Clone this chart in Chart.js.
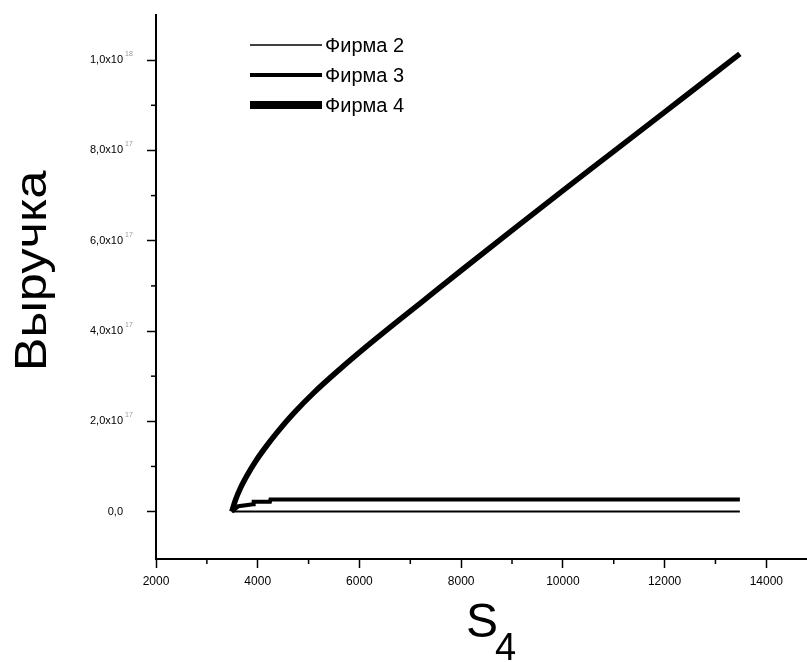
<!DOCTYPE html>
<html>
<head>
<meta charset="utf-8">
<script src="https://cdn.jsdelivr.net/npm/chart.js@4"></script>
<style>
  html, body { margin: 0; padding: 0; background: #fff; }
  #wrap { width: 807px; height: 662px; }
</style>
</head>
<body>
<div id="wrap"><canvas id="revenueChart" width="807" height="662"></canvas></div>
<script>
// ======================================================
// Data
// ======================================================
const seriesNames = ["Фирма 2", "Фирма 3", "Фирма 4"];

const firm2S = [3490, 13480];
const firm2R = [0, 0];

const firm3S = [3490, 3620, 3910, 3920, 4240, 4250, 13480];
const firm3R = [0, 1.2e16, 1.6e16, 2.2e16, 2.2e16, 2.7e16, 2.7e16];

const firm4S = [3490, 3560, 3660, 3800, 3950, 4150, 4400, 4700, 5100, 5600, 6100, 6600, 7200, 8000, 9000, 10000, 11000, 12000, 13000, 13480];
const firm4R = [0, 2.5e16, 5.2e16, 8.2e16, 1.1e17, 1.42e17, 1.78e17, 2.17e17, 2.63e17, 3.14e17, 3.62e17, 4.08e17, 4.62e17, 5.34e17, 6.23e17, 7.11e17, 7.98e17, 8.85e17, 9.72e17, 1.014e18];

const xMajorTicks = [2000, 4000, 6000, 8000, 10000, 12000, 14000];
const xMinorTicks = [3000, 5000, 7000, 9000, 11000, 13000];
const yMajorTicks = [0, 2e17, 4e17, 6e17, 8e17, 1e18];
const yMinorTicks = [1e17, 3e17, 5e17, 7e17, 9e17];
const yTickLabels = ["0,0", "2,0x10", "4,0x10", "6,0x10", "8,0x10", "1,0x10"];
const yTickExps = ["", "17", "17", "17", "17", "18"];

const xTitle = "S";
const xTitleSub = "4";
const yTitle = "Выручка";

const FONT = "'Liberation Sans', Arial, sans-serif";

function toPoints(xs, ys) {
  return xs.map((x, i) => ({ x: x, y: ys[i] }));
}

// ======================================================
// Extra drawing: minor ticks, exponents, titles, legend
// ======================================================
const decorPlugin = {
  id: "decor",
  afterDraw(chart) {
    const ctx = chart.ctx;
    const xs = chart.scales.x;
    const ys = chart.scales.y;
    const area = chart.chartArea;

    ctx.save();
    ctx.strokeStyle = "#000";
    ctx.lineWidth = 1.5;
    // minor ticks
    xMinorTicks.forEach((v) => {
      const px = xs.getPixelForValue(v);
      ctx.beginPath();
      ctx.moveTo(px, area.bottom);
      ctx.lineTo(px, area.bottom + 5);
      ctx.stroke();
    });
    yMinorTicks.forEach((v) => {
      const py = ys.getPixelForValue(v);
      ctx.beginPath();
      ctx.moveTo(area.left, py);
      ctx.lineTo(area.left - 5, py);
      ctx.stroke();
    });

    // exponents on y labels
    ctx.fillStyle = "#999";
    ctx.font = "7px " + FONT;
    ctx.textAlign = "left";
    ctx.textBaseline = "middle";
    yMajorTicks.forEach((v, i) => {
      if (!yTickExps[i]) return;
      ctx.fillText(yTickExps[i], area.left - 31, ys.getPixelForValue(v) - 6);
    });

    // axis titles
    ctx.fillStyle = "#000";
    ctx.save();
    ctx.translate(34, 271);
    ctx.rotate(-Math.PI / 2);
    ctx.scale(1.15, 1);
    ctx.font = "44px " + FONT;
    ctx.textAlign = "center";
    ctx.textBaseline = "middle";
    ctx.fillText(yTitle, 0, 0);
    ctx.restore();

    ctx.textAlign = "left";
    ctx.textBaseline = "alphabetic";
    ctx.font = "48px " + FONT;
    ctx.fillText(xTitle, 466, 637);
    ctx.font = "38px " + FONT;
    ctx.fillText(xTitleSub, 495, 660);

    // legend
    const legendWidths = [1.5, 4, 8];
    ctx.font = "20px " + FONT;
    ctx.textBaseline = "middle";
    seriesNames.forEach((name, i) => {
      const ly = 45 + i * 30;
      ctx.lineWidth = legendWidths[i];
      ctx.beginPath();
      ctx.moveTo(250, ly);
      ctx.lineTo(322, ly);
      ctx.stroke();
      ctx.fillText(name, 325, ly + 1);
    });
    ctx.restore();
  },
};

// ======================================================
// Chart
// ======================================================
const ctx = document.getElementById("revenueChart").getContext("2d");

new Chart(ctx, {
  type: "scatter",
  data: {
    datasets: [
      {
        label: seriesNames[0],
        data: toPoints(firm2S, firm2R),
        borderColor: "#000",
        borderWidth: 2,
        showLine: true,
        pointRadius: 0,
      },
      {
        label: seriesNames[1],
        data: toPoints(firm3S, firm3R),
        borderColor: "#000",
        borderWidth: 4,
        showLine: true,
        pointRadius: 0,
      },
      {
        label: seriesNames[2],
        data: toPoints(firm4S, firm4R),
        borderColor: "#000",
        borderWidth: 5.5,
        showLine: true,
        pointRadius: 0,
        cubicInterpolationMode: "monotone",
      },
    ],
  },
  options: {
    responsive: false,
    animation: false,
    layout: { autoPadding: false, padding: { top: 15, right: 0, left: 0, bottom: 0 } },
    plugins: {
      legend: { display: false },
      tooltip: { enabled: false },
    },
    scales: {
      x: {
        type: "linear",
        min: 2000,
        max: 14800,
        afterBuildTicks: (scale) => {
          scale.ticks = xMajorTicks.map((v) => ({ value: v }));
        },
        afterFit: (scale) => {
          scale.height = 103;
        },
        border: { color: "#000", width: 2 },
        grid: {
          drawOnChartArea: false,
          tickLength: 9,
          tickColor: "#000",
          tickWidth: 1.5,
        },
        ticks: {
          color: "#000",
          font: { family: FONT, size: 12 },
          padding: 6,
          maxRotation: 0,
          callback: (value) => String(value),
        },
      },
      y: {
        type: "linear",
        min: -1.05e17,
        max: 1.1e18,
        afterBuildTicks: (scale) => {
          scale.ticks = yMajorTicks.map((v) => ({ value: v }));
        },
        afterFit: (scale) => {
          scale.width = 156;
          scale.paddingTop = 0;
        },
        border: { color: "#000", width: 2 },
        grid: {
          drawOnChartArea: false,
          tickLength: 9,
          tickColor: "#000",
          tickWidth: 1.5,
        },
        ticks: {
          color: "#000",
          font: { family: FONT, size: 11 },
          padding: 24,
          callback: (value, index) => yTickLabels[index],
        },
      },
    },
  },
  plugins: [decorPlugin],
});
</script>
</body>
</html>
